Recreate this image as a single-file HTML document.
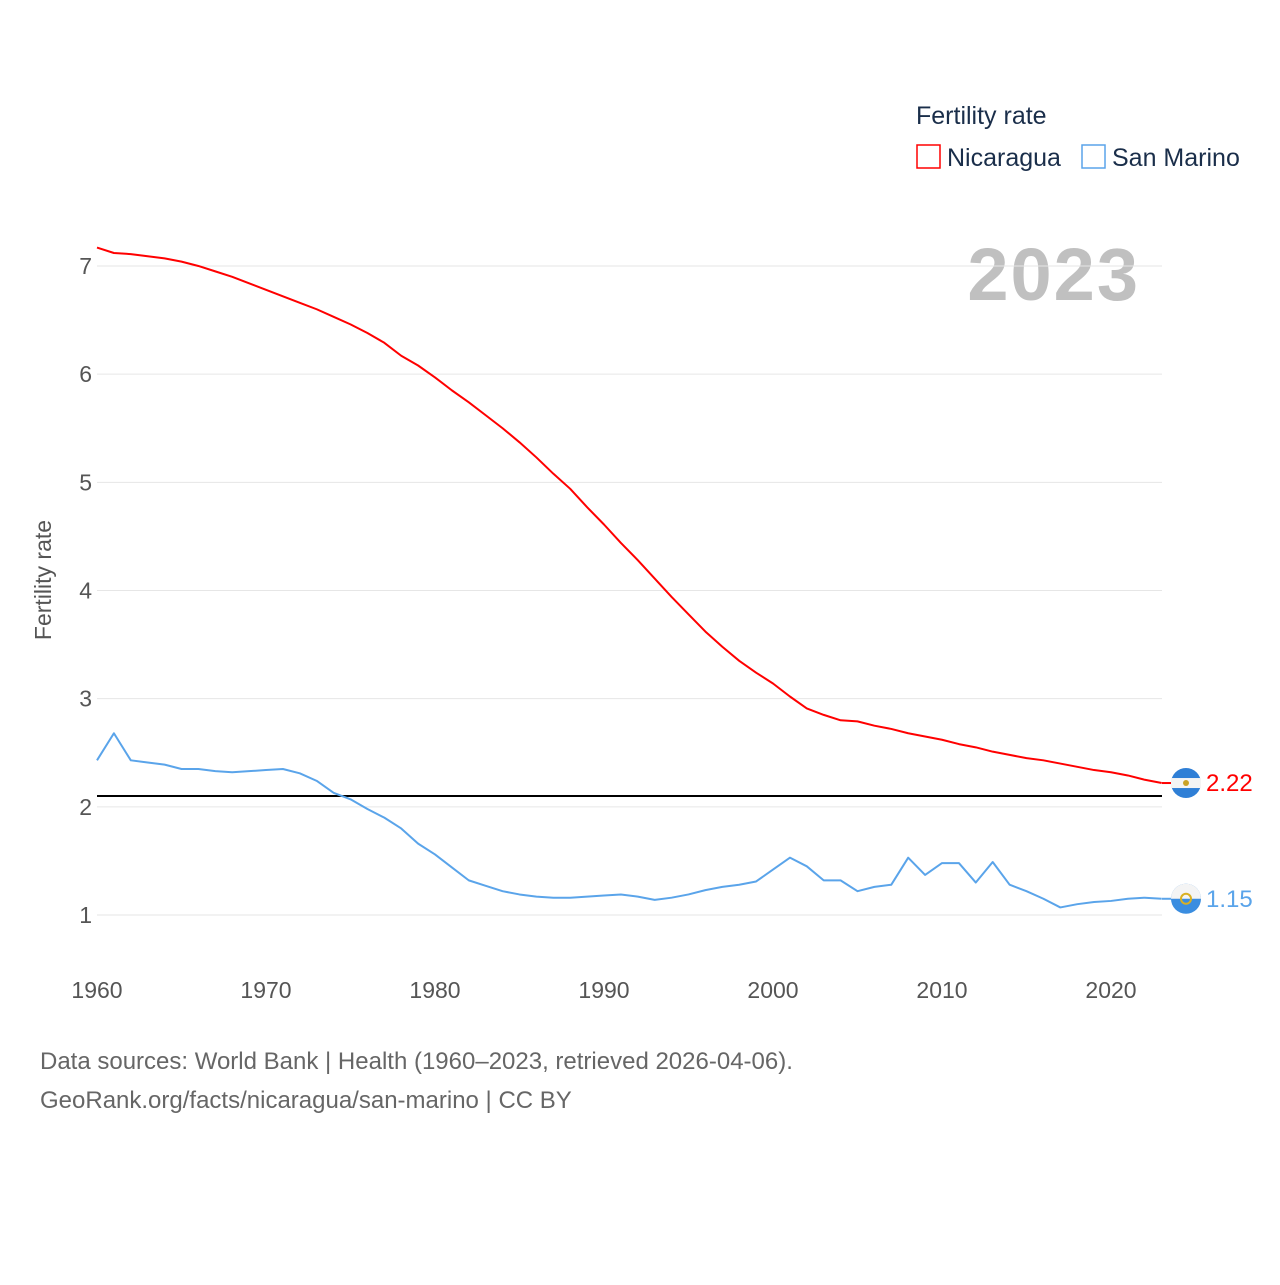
<!DOCTYPE html>
<html><head><meta charset="utf-8"><style>
body{margin:0;background:#fff;font-family:"Liberation Sans",sans-serif;}
svg text{font-family:"Liberation Sans",sans-serif;}
</style></head><body>
<svg id="chart" width="1280" height="1280" viewBox="0 0 1280 1280">
<text x="916" y="124" font-size="25" fill="#1a2e4a">Fertility rate</text>
<g><rect x="917" y="145" width="23" height="23" fill="none" stroke="#f00" stroke-width="1.5"/><text x="947" y="166" font-size="25" fill="#1a2e4a">Nicaragua</text></g>
<g><rect x="1082" y="145" width="23" height="23" fill="none" stroke="#5aa4ea" stroke-width="1.5"/><text x="1112" y="166" font-size="25" fill="#1a2e4a">San Marino</text></g>
<text x="1140" y="300" font-size="74" font-weight="bold" fill="#c0c0c0" text-anchor="end" letter-spacing="2">2023</text>
<text transform="translate(51,580) rotate(-90)" font-size="23" fill="#555" text-anchor="middle">Fertility rate</text>
<g id="grid"></g><g id="series"></g>
<text x="40" y="1069" font-size="24" fill="#666">Data sources: World Bank | Health (1960–2023, retrieved 2026-04-06).</text>
<text x="40" y="1108" font-size="24" fill="#666">GeoRank.org/facts/nicaragua/san-marino | CC BY</text>
</svg>
<script>
const years=[];for(let y=1960;y<=2023;y++)years.push(y);
const yTicks=[1,2,3,4,5,6,7];
const xTicks=[1960,1970,1980,1990,2000,2010,2020];
const nicaragua=[7.17,7.12,7.11,7.09,7.07,7.04,7.00,6.95,6.90,6.84,6.78,6.72,6.66,6.60,6.53,6.46,6.38,6.29,6.17,6.08,5.97,5.85,5.74,5.62,5.50,5.37,5.23,5.08,4.94,4.77,4.61,4.44,4.28,4.11,3.94,3.78,3.62,3.48,3.35,3.24,3.14,3.02,2.91,2.85,2.80,2.79,2.75,2.72,2.68,2.65,2.62,2.58,2.55,2.51,2.48,2.45,2.43,2.40,2.37,2.34,2.32,2.29,2.25,2.22];
const sanMarino=[2.43,2.68,2.43,2.41,2.39,2.35,2.35,2.33,2.32,2.33,2.34,2.35,2.31,2.24,2.13,2.07,1.98,1.90,1.80,1.66,1.56,1.44,1.32,1.27,1.22,1.19,1.17,1.16,1.16,1.17,1.18,1.19,1.17,1.14,1.16,1.19,1.23,1.26,1.28,1.31,1.42,1.53,1.45,1.32,1.32,1.22,1.26,1.28,1.53,1.37,1.48,1.48,1.30,1.49,1.28,1.22,1.15,1.07,1.10,1.12,1.13,1.15,1.16,1.15];
const replacement=2.1;
const X=y=>97+(y-1960)*(1111-97)/60;
const Y=v=>915-(v-1)*108.17;
const NS="http://www.w3.org/2000/svg";
const grid=document.getElementById('grid'),ser=document.getElementById('series');
function mk(tag,attrs,parent,txt){const e=document.createElementNS(NS,tag);for(const k in attrs)e.setAttribute(k,attrs[k]);if(txt!=null)e.textContent=txt;parent.appendChild(e);return e;}
yTicks.forEach(t=>{
 const l=mk('line',{x1:97,x2:1162,y1:Y(t),y2:Y(t),stroke:'#e6e6e6','stroke-width':1},grid);
 
 
 const tx=mk('text',{x:92,y:Y(t)+8,'font-size':23,fill:'#555','text-anchor':'end'},grid,t);
 
 
});
xTicks.forEach(t=>{
 const tx=mk('text',{x:X(t),y:998,'font-size':23,fill:'#555','text-anchor':'middle'},grid,t);
 
 
});
const rl=mk('line',{x1:97,x2:1162,y1:Y(replacement),y2:Y(replacement),stroke:'#000','stroke-width':2},ser);


function line(data,color,name){
 const p=mk('polyline',{points:data.map((v,i)=>X(years[i])+','+Y(v)).join(' '),fill:'none',stroke:color,'stroke-width':2,'stroke-linejoin':'round'},ser);
 
 
}
line(sanMarino,'#5aa4ea','san-marino-line');
line(nicaragua,'#f00','nicaragua-line');
function endMark(data,color,name,sm){
 const v=data[data.length-1],cx=1186,cy=Y(v);
 const g=mk('g',{},ser);
 
 
 mk('line',{x1:1162,x2:1172,y1:cy,y2:cy,stroke:color,'stroke-width':2},g);
 if(sm){
  mk('circle',{cx:cx,cy:cy,r:15,fill:'#3a8de0'},g);
  mk('path',{d:`M${cx-15},${cy} A15,15 0 0 1 ${cx+15},${cy} Z`,fill:'#f4f4f4'},g);
  mk('circle',{cx:cx,cy:cy,r:5,fill:'none',stroke:'#d9b023','stroke-width':2},g);
 }else{
  mk('circle',{cx:cx,cy:cy,r:15,fill:'#2f7fd6'},g);
  mk('rect',{x:cx-15,y:cy-5,width:30,height:10,fill:'#f4f4f4'},g);
  mk('circle',{cx:cx,cy:cy,r:3,fill:'#c9a227'},g);
 }
 mk('text',{x:1206,y:cy+8,'font-size':24,fill:color},g,v.toFixed(2));
}
endMark(nicaragua,'#f00','nicaragua-end-label',false);
endMark(sanMarino,'#5aa4ea','san-marino-end-label',true);
</script>
</body></html>
